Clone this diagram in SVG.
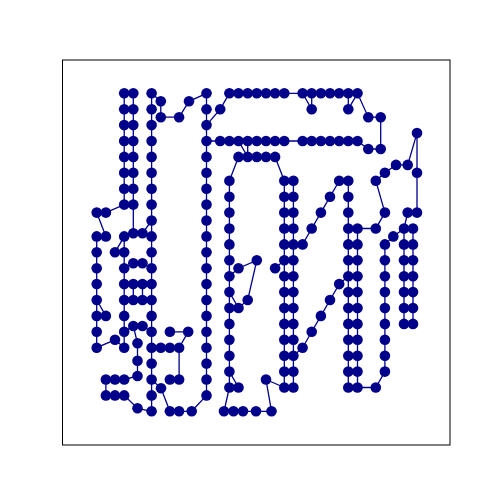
<svg xmlns="http://www.w3.org/2000/svg" xmlns:xlink="http://www.w3.org/1999/xlink" width="500" height="500" viewBox="0 0 500 500">
<style>
.e{fill:none;stroke:#00008b;stroke-width:1.3}
.n{fill:#00008b}
</style>
<defs><circle id="d" class="n" cx="0" cy="0" r="5.3"/></defs>
<rect x="0" y="0" width="500" height="500" fill="#fff"/>
<rect x="62.5" y="60" width="387.5" height="385" fill="none" stroke="#000" stroke-width="1"/>
<g id="edges" class="e">
<path d="M124.2,93.3V204.6M133.3,93.3V233.3M151.6,93.3V411.3M206.5,93.3V395.4"/>
<path d="M151.6,93.3L160.8,101.3L160.8,117.2L179.1,117.2L189,101.3L206.5,93.3"/>
<path d="M206.5,395.4L191.7,411.3L169.9,411.3L161,388.3L151.6,379.5"/>
<path d="M96.7,212.6L105.9,212.6L124.2,204.6M96.7,212.6L105.9,236.4M96.7,236.4V347.7M96.7,236.4L105.9,236.4M96.7,300L105.9,315.9M96.7,315.9L105.9,315.9"/>
<path d="M96.7,347.7L115,339.8L124.2,347.7M115,252.3L124.2,236.4M124.2,236.4V347.7"/>
<path d="M124.2,236.4L133.3,233.3L142.5,233.3L151.6,236.4M142.5,233.3L151.6,220.5"/>
<path d="M124.2,268.2L133.3,263.3L142.5,263.3L151.6,268.2"/>
<path d="M124.2,284.1H151.6M124.2,300H151.6M133.3,284.1V300M142.5,284.1V300"/>
<path d="M124.2,331.8L133.3,326L142.5,326L151.6,331.8M133.3,326L137.5,343.3L137.5,360.7L137.5,376L124.2,379.5"/>
<path d="M105.9,379.5H124.2M105.9,395.4H124.2M105.9,379.5V395.4M124.2,395.4L137.5,408.3L151.6,411.3"/>
<path d="M151.6,347.7H179.1M169.9,331.8L188.2,331.8L179.1,347.7V379.5L169.9,379.5"/>
<path d="M229.4,93.3H357.5M206.5,125.1L220.2,109.2L229.4,93.3M302.6,93.3L311.7,109.2L311.7,93.3"/>
<path d="M348.3,93.3V109.2L357.5,93.3L368.3,117.2L380.7,117.2V149L368.3,149L357.5,141"/>
<path d="M206.5,141H357.5M238.5,156.9H275.1M247.7,156.9L238.5,141M247.7,156.9V141M238.5,156.9L229.4,180.8M275.1,156.9L284.3,180.8"/>
<path d="M229.4,180.8V387.5M229.4,276.2L238.5,268.2L256.8,260.3L247.7,300L238.5,308L229.4,292.1M229.4,308L238.5,308"/>
<path d="M229.4,371.6L238.5,387.5M229.4,387.5L224,411.3H271.5L266,379.5L284.3,387.5"/>
<path d="M284.3,180.8V387.5M293.4,180.8V387.5M275.1,268.2L284.3,260.3"/>
<path d="M293.4,244.4L302.6,244.4L311.7,228.5L320.9,212.6L330,196.7L339.2,180.8L348.3,180.8"/>
<path d="M293.4,355.7L302.6,347.7L311.7,331.8L320.9,315.9L330,300L339.2,284.1L348.3,276.2"/>
<path d="M348.3,180.8V387.5M357.5,228.5V387.5M357.5,387.5L375.8,387.5L384.9,371.6M384.9,244.4V371.6"/>
<path d="M357.5,228.5L375.8,228.5L384.9,212.6L375.8,180.8L384.9,172.8L396,164.9L407.7,164.9L417,133.1V212.6L407.7,212.6L404,228.5"/>
<path d="M384.9,244.4L393.3,236.4L404,228.5M404,228.5V323.9M413,228.5V323.9"/>
</g>
<g id="n1"><use href="#d" x="124.2" y="93.3"/></g>
<g id="n2"><use href="#d" x="124.2" y="109.2"/></g>
<g id="n3"><use href="#d" x="124.2" y="125.1"/></g>
<g id="n4"><use href="#d" x="124.2" y="141"/></g>
<g id="n5"><use href="#d" x="124.2" y="156.9"/></g>
<g id="n6"><use href="#d" x="124.2" y="172.8"/></g>
<g id="n7"><use href="#d" x="124.2" y="188.7"/></g>
<g id="n8"><use href="#d" x="124.2" y="204.6"/></g>
<g id="n9"><use href="#d" x="133.3" y="93.3"/></g>
<g id="n10"><use href="#d" x="133.3" y="109.2"/></g>
<g id="n11"><use href="#d" x="133.3" y="125.1"/></g>
<g id="n12"><use href="#d" x="133.3" y="141"/></g>
<g id="n13"><use href="#d" x="133.3" y="156.9"/></g>
<g id="n14"><use href="#d" x="133.3" y="172.8"/></g>
<g id="n15"><use href="#d" x="133.3" y="188.7"/></g>
<g id="n16"><use href="#d" x="133.3" y="204.6"/></g>
<g id="n17"><use href="#d" x="151.6" y="93.3"/></g>
<g id="n18"><use href="#d" x="151.6" y="109.2"/></g>
<g id="n19"><use href="#d" x="151.6" y="125.1"/></g>
<g id="n20"><use href="#d" x="151.6" y="141"/></g>
<g id="n21"><use href="#d" x="151.6" y="156.9"/></g>
<g id="n22"><use href="#d" x="151.6" y="172.8"/></g>
<g id="n23"><use href="#d" x="151.6" y="188.7"/></g>
<g id="n24"><use href="#d" x="151.6" y="204.6"/></g>
<g id="n25"><use href="#d" x="151.6" y="220.5"/></g>
<g id="n26"><use href="#d" x="151.6" y="236.4"/></g>
<g id="n27"><use href="#d" x="151.6" y="252.3"/></g>
<g id="n28"><use href="#d" x="151.6" y="268.2"/></g>
<g id="n29"><use href="#d" x="151.6" y="284.1"/></g>
<g id="n30"><use href="#d" x="151.6" y="300"/></g>
<g id="n31"><use href="#d" x="151.6" y="315.9"/></g>
<g id="n32"><use href="#d" x="151.6" y="331.8"/></g>
<g id="n33"><use href="#d" x="151.6" y="347.7"/></g>
<g id="n34"><use href="#d" x="151.6" y="363.6"/></g>
<g id="n35"><use href="#d" x="151.6" y="379.5"/></g>
<g id="n36"><use href="#d" x="151.6" y="395.4"/></g>
<g id="n37"><use href="#d" x="151.6" y="411.3"/></g>
<g id="n38"><use href="#d" x="160.8" y="101.3"/></g>
<g id="n39"><use href="#d" x="160.8" y="117.2"/></g>
<g id="n40"><use href="#d" x="179.1" y="117.2"/></g>
<g id="n41"><use href="#d" x="189" y="101.3"/></g>
<g id="n42"><use href="#d" x="206.5" y="93.3"/></g>
<g id="n43"><use href="#d" x="206.5" y="109.2"/></g>
<g id="n44"><use href="#d" x="206.5" y="125.1"/></g>
<g id="n45"><use href="#d" x="206.5" y="141"/></g>
<g id="n46"><use href="#d" x="206.5" y="156.9"/></g>
<g id="n47"><use href="#d" x="206.5" y="172.8"/></g>
<g id="n48"><use href="#d" x="206.5" y="188.7"/></g>
<g id="n49"><use href="#d" x="206.5" y="204.6"/></g>
<g id="n50"><use href="#d" x="206.5" y="220.5"/></g>
<g id="n51"><use href="#d" x="206.5" y="236.4"/></g>
<g id="n52"><use href="#d" x="206.5" y="252.3"/></g>
<g id="n53"><use href="#d" x="206.5" y="268.2"/></g>
<g id="n54"><use href="#d" x="206.5" y="284.1"/></g>
<g id="n55"><use href="#d" x="206.5" y="300"/></g>
<g id="n56"><use href="#d" x="206.5" y="315.9"/></g>
<g id="n57"><use href="#d" x="206.5" y="331.8"/></g>
<g id="n58"><use href="#d" x="206.5" y="347.7"/></g>
<g id="n59"><use href="#d" x="206.5" y="363.6"/></g>
<g id="n60"><use href="#d" x="206.5" y="379.5"/></g>
<g id="n61"><use href="#d" x="206.5" y="395.4"/></g>
<g id="n62"><use href="#d" x="96.7" y="212.6"/></g>
<g id="n63"><use href="#d" x="105.9" y="212.6"/></g>
<g id="n64"><use href="#d" x="96.7" y="236.4"/></g>
<g id="n65"><use href="#d" x="96.7" y="252.3"/></g>
<g id="n66"><use href="#d" x="96.7" y="268.2"/></g>
<g id="n67"><use href="#d" x="96.7" y="284.1"/></g>
<g id="n68"><use href="#d" x="96.7" y="300"/></g>
<g id="n69"><use href="#d" x="96.7" y="315.9"/></g>
<g id="n70"><use href="#d" x="96.7" y="331.8"/></g>
<g id="n71"><use href="#d" x="96.7" y="347.7"/></g>
<g id="n72"><use href="#d" x="105.9" y="236.4"/></g>
<g id="n73"><use href="#d" x="105.9" y="315.9"/></g>
<g id="n74"><use href="#d" x="115" y="339.8"/></g>
<g id="n75"><use href="#d" x="115" y="252.3"/></g>
<g id="n76"><use href="#d" x="124.2" y="236.4"/></g>
<g id="n77"><use href="#d" x="124.2" y="252.3"/></g>
<g id="n78"><use href="#d" x="124.2" y="268.2"/></g>
<g id="n79"><use href="#d" x="124.2" y="284.1"/></g>
<g id="n80"><use href="#d" x="124.2" y="300"/></g>
<g id="n81"><use href="#d" x="124.2" y="315.9"/></g>
<g id="n82"><use href="#d" x="124.2" y="331.8"/></g>
<g id="n83"><use href="#d" x="124.2" y="347.7"/></g>
<g id="n84"><use href="#d" x="133.3" y="233.3"/></g>
<g id="n85"><use href="#d" x="142.5" y="233.3"/></g>
<g id="n86"><use href="#d" x="133.3" y="263.3"/></g>
<g id="n87"><use href="#d" x="142.5" y="263.3"/></g>
<g id="n88"><use href="#d" x="133.3" y="284.1"/></g>
<g id="n89"><use href="#d" x="142.5" y="284.1"/></g>
<g id="n90"><use href="#d" x="133.3" y="300"/></g>
<g id="n91"><use href="#d" x="142.5" y="300"/></g>
<g id="n92"><use href="#d" x="133.3" y="326"/></g>
<g id="n93"><use href="#d" x="142.5" y="326"/></g>
<g id="n94"><use href="#d" x="137.5" y="343.3"/></g>
<g id="n95"><use href="#d" x="137.5" y="360.7"/></g>
<g id="n96"><use href="#d" x="137.5" y="376"/></g>
<g id="n97"><use href="#d" x="137.5" y="408.3"/></g>
<g id="n98"><use href="#d" x="105.9" y="379.5"/></g>
<g id="n99"><use href="#d" x="115" y="379.5"/></g>
<g id="n100"><use href="#d" x="124.2" y="379.5"/></g>
<g id="n101"><use href="#d" x="105.9" y="395.4"/></g>
<g id="n102"><use href="#d" x="115" y="395.4"/></g>
<g id="n103"><use href="#d" x="124.2" y="395.4"/></g>
<g id="n104"><use href="#d" x="160.8" y="347.7"/></g>
<g id="n105"><use href="#d" x="169.9" y="347.7"/></g>
<g id="n106"><use href="#d" x="179.1" y="347.7"/></g>
<g id="n107"><use href="#d" x="169.9" y="331.8"/></g>
<g id="n108"><use href="#d" x="188.2" y="331.8"/></g>
<g id="n109"><use href="#d" x="169.9" y="379.5"/></g>
<g id="n110"><use href="#d" x="179.1" y="379.5"/></g>
<g id="n111"><use href="#d" x="161" y="388.3"/></g>
<g id="n112"><use href="#d" x="169.9" y="411.3"/></g>
<g id="n113"><use href="#d" x="179.1" y="411.3"/></g>
<g id="n114"><use href="#d" x="191.7" y="411.3"/></g>
<g id="n115"><use href="#d" x="229.4" y="93.3"/></g>
<g id="n116"><use href="#d" x="238.5" y="93.3"/></g>
<g id="n117"><use href="#d" x="247.7" y="93.3"/></g>
<g id="n118"><use href="#d" x="256.8" y="93.3"/></g>
<g id="n119"><use href="#d" x="266" y="93.3"/></g>
<g id="n120"><use href="#d" x="275.1" y="93.3"/></g>
<g id="n121"><use href="#d" x="284.3" y="93.3"/></g>
<g id="n122"><use href="#d" x="302.6" y="93.3"/></g>
<g id="n123"><use href="#d" x="311.7" y="93.3"/></g>
<g id="n124"><use href="#d" x="320.9" y="93.3"/></g>
<g id="n125"><use href="#d" x="330" y="93.3"/></g>
<g id="n126"><use href="#d" x="339.2" y="93.3"/></g>
<g id="n127"><use href="#d" x="348.3" y="93.3"/></g>
<g id="n128"><use href="#d" x="357.5" y="93.3"/></g>
<g id="n129"><use href="#d" x="220.2" y="109.2"/></g>
<g id="n130"><use href="#d" x="311.7" y="109.2"/></g>
<g id="n131"><use href="#d" x="348.3" y="109.2"/></g>
<g id="n132"><use href="#d" x="368.3" y="117.2"/></g>
<g id="n133"><use href="#d" x="380.7" y="117.2"/></g>
<g id="n134"><use href="#d" x="368.3" y="149"/></g>
<g id="n135"><use href="#d" x="380.7" y="149"/></g>
<g id="n136"><use href="#d" x="220.2" y="141"/></g>
<g id="n137"><use href="#d" x="229.4" y="141"/></g>
<g id="n138"><use href="#d" x="238.5" y="141"/></g>
<g id="n139"><use href="#d" x="247.7" y="141"/></g>
<g id="n140"><use href="#d" x="256.8" y="141"/></g>
<g id="n141"><use href="#d" x="266" y="141"/></g>
<g id="n142"><use href="#d" x="275.1" y="141"/></g>
<g id="n143"><use href="#d" x="284.3" y="141"/></g>
<g id="n144"><use href="#d" x="302.6" y="141"/></g>
<g id="n145"><use href="#d" x="311.7" y="141"/></g>
<g id="n146"><use href="#d" x="320.9" y="141"/></g>
<g id="n147"><use href="#d" x="330" y="141"/></g>
<g id="n148"><use href="#d" x="339.2" y="141"/></g>
<g id="n149"><use href="#d" x="348.3" y="141"/></g>
<g id="n150"><use href="#d" x="357.5" y="141"/></g>
<g id="n151"><use href="#d" x="238.5" y="156.9"/></g>
<g id="n152"><use href="#d" x="247.7" y="156.9"/></g>
<g id="n153"><use href="#d" x="256.8" y="156.9"/></g>
<g id="n154"><use href="#d" x="266" y="156.9"/></g>
<g id="n155"><use href="#d" x="275.1" y="156.9"/></g>
<g id="n156"><use href="#d" x="229.4" y="180.8"/></g>
<g id="n157"><use href="#d" x="229.4" y="196.7"/></g>
<g id="n158"><use href="#d" x="229.4" y="212.6"/></g>
<g id="n159"><use href="#d" x="229.4" y="228.5"/></g>
<g id="n160"><use href="#d" x="229.4" y="244.4"/></g>
<g id="n161"><use href="#d" x="229.4" y="260.3"/></g>
<g id="n162"><use href="#d" x="229.4" y="276.2"/></g>
<g id="n163"><use href="#d" x="229.4" y="292.1"/></g>
<g id="n164"><use href="#d" x="229.4" y="308"/></g>
<g id="n165"><use href="#d" x="229.4" y="323.9"/></g>
<g id="n166"><use href="#d" x="229.4" y="339.8"/></g>
<g id="n167"><use href="#d" x="229.4" y="355.7"/></g>
<g id="n168"><use href="#d" x="229.4" y="371.6"/></g>
<g id="n169"><use href="#d" x="229.4" y="387.5"/></g>
<g id="n170"><use href="#d" x="238.5" y="268.2"/></g>
<g id="n171"><use href="#d" x="256.8" y="260.3"/></g>
<g id="n172"><use href="#d" x="247.7" y="300"/></g>
<g id="n173"><use href="#d" x="238.5" y="308"/></g>
<g id="n174"><use href="#d" x="238.5" y="387.5"/></g>
<g id="n175"><use href="#d" x="224" y="411.3"/></g>
<g id="n176"><use href="#d" x="233.5" y="411.3"/></g>
<g id="n177"><use href="#d" x="243" y="411.3"/></g>
<g id="n178"><use href="#d" x="256" y="411.3"/></g>
<g id="n179"><use href="#d" x="271.5" y="411.3"/></g>
<g id="n180"><use href="#d" x="266" y="379.5"/></g>
<g id="n181"><use href="#d" x="284.3" y="180.8"/></g>
<g id="n182"><use href="#d" x="284.3" y="196.7"/></g>
<g id="n183"><use href="#d" x="284.3" y="212.6"/></g>
<g id="n184"><use href="#d" x="284.3" y="228.5"/></g>
<g id="n185"><use href="#d" x="284.3" y="244.4"/></g>
<g id="n186"><use href="#d" x="284.3" y="260.3"/></g>
<g id="n187"><use href="#d" x="284.3" y="276.2"/></g>
<g id="n188"><use href="#d" x="284.3" y="292.1"/></g>
<g id="n189"><use href="#d" x="284.3" y="308"/></g>
<g id="n190"><use href="#d" x="284.3" y="323.9"/></g>
<g id="n191"><use href="#d" x="284.3" y="339.8"/></g>
<g id="n192"><use href="#d" x="284.3" y="355.7"/></g>
<g id="n193"><use href="#d" x="284.3" y="371.6"/></g>
<g id="n194"><use href="#d" x="284.3" y="387.5"/></g>
<g id="n195"><use href="#d" x="293.4" y="180.8"/></g>
<g id="n196"><use href="#d" x="293.4" y="196.7"/></g>
<g id="n197"><use href="#d" x="293.4" y="212.6"/></g>
<g id="n198"><use href="#d" x="293.4" y="228.5"/></g>
<g id="n199"><use href="#d" x="293.4" y="244.4"/></g>
<g id="n200"><use href="#d" x="293.4" y="260.3"/></g>
<g id="n201"><use href="#d" x="293.4" y="276.2"/></g>
<g id="n202"><use href="#d" x="293.4" y="292.1"/></g>
<g id="n203"><use href="#d" x="293.4" y="308"/></g>
<g id="n204"><use href="#d" x="293.4" y="323.9"/></g>
<g id="n205"><use href="#d" x="293.4" y="339.8"/></g>
<g id="n206"><use href="#d" x="293.4" y="355.7"/></g>
<g id="n207"><use href="#d" x="293.4" y="371.6"/></g>
<g id="n208"><use href="#d" x="293.4" y="387.5"/></g>
<g id="n209"><use href="#d" x="275.1" y="268.2"/></g>
<g id="n210"><use href="#d" x="302.6" y="244.4"/></g>
<g id="n211"><use href="#d" x="311.7" y="228.5"/></g>
<g id="n212"><use href="#d" x="320.9" y="212.6"/></g>
<g id="n213"><use href="#d" x="330" y="196.7"/></g>
<g id="n214"><use href="#d" x="339.2" y="180.8"/></g>
<g id="n215"><use href="#d" x="302.6" y="347.7"/></g>
<g id="n216"><use href="#d" x="311.7" y="331.8"/></g>
<g id="n217"><use href="#d" x="320.9" y="315.9"/></g>
<g id="n218"><use href="#d" x="330" y="300"/></g>
<g id="n219"><use href="#d" x="339.2" y="284.1"/></g>
<g id="n220"><use href="#d" x="348.3" y="180.8"/></g>
<g id="n221"><use href="#d" x="348.3" y="196.7"/></g>
<g id="n222"><use href="#d" x="348.3" y="212.6"/></g>
<g id="n223"><use href="#d" x="348.3" y="228.5"/></g>
<g id="n224"><use href="#d" x="348.3" y="244.4"/></g>
<g id="n225"><use href="#d" x="348.3" y="260.3"/></g>
<g id="n226"><use href="#d" x="348.3" y="276.2"/></g>
<g id="n227"><use href="#d" x="348.3" y="292.1"/></g>
<g id="n228"><use href="#d" x="348.3" y="308"/></g>
<g id="n229"><use href="#d" x="348.3" y="323.9"/></g>
<g id="n230"><use href="#d" x="348.3" y="339.8"/></g>
<g id="n231"><use href="#d" x="348.3" y="355.7"/></g>
<g id="n232"><use href="#d" x="348.3" y="371.6"/></g>
<g id="n233"><use href="#d" x="348.3" y="387.5"/></g>
<g id="n234"><use href="#d" x="357.5" y="228.5"/></g>
<g id="n235"><use href="#d" x="357.5" y="244.4"/></g>
<g id="n236"><use href="#d" x="357.5" y="260.3"/></g>
<g id="n237"><use href="#d" x="357.5" y="276.2"/></g>
<g id="n238"><use href="#d" x="357.5" y="292.1"/></g>
<g id="n239"><use href="#d" x="357.5" y="308"/></g>
<g id="n240"><use href="#d" x="357.5" y="323.9"/></g>
<g id="n241"><use href="#d" x="357.5" y="339.8"/></g>
<g id="n242"><use href="#d" x="357.5" y="355.7"/></g>
<g id="n243"><use href="#d" x="357.5" y="371.6"/></g>
<g id="n244"><use href="#d" x="357.5" y="387.5"/></g>
<g id="n245"><use href="#d" x="375.8" y="387.5"/></g>
<g id="n246"><use href="#d" x="375.8" y="228.5"/></g>
<g id="n247"><use href="#d" x="384.9" y="212.6"/></g>
<g id="n248"><use href="#d" x="375.8" y="180.8"/></g>
<g id="n249"><use href="#d" x="384.9" y="172.8"/></g>
<g id="n250"><use href="#d" x="396" y="164.9"/></g>
<g id="n251"><use href="#d" x="407.7" y="164.9"/></g>
<g id="n252"><use href="#d" x="417" y="133.1"/></g>
<g id="n253"><use href="#d" x="417" y="172.8"/></g>
<g id="n254"><use href="#d" x="417" y="212.6"/></g>
<g id="n255"><use href="#d" x="407.7" y="212.6"/></g>
<g id="n256"><use href="#d" x="393.3" y="236.4"/></g>
<g id="n257"><use href="#d" x="384.9" y="244.4"/></g>
<g id="n258"><use href="#d" x="384.9" y="260.3"/></g>
<g id="n259"><use href="#d" x="384.9" y="276.2"/></g>
<g id="n260"><use href="#d" x="384.9" y="292.1"/></g>
<g id="n261"><use href="#d" x="384.9" y="308"/></g>
<g id="n262"><use href="#d" x="384.9" y="323.9"/></g>
<g id="n263"><use href="#d" x="384.9" y="339.8"/></g>
<g id="n264"><use href="#d" x="384.9" y="355.7"/></g>
<g id="n265"><use href="#d" x="384.9" y="371.6"/></g>
<g id="n266"><use href="#d" x="404" y="228.5"/></g>
<g id="n267"><use href="#d" x="404" y="244.4"/></g>
<g id="n268"><use href="#d" x="404" y="260.3"/></g>
<g id="n269"><use href="#d" x="404" y="276.2"/></g>
<g id="n270"><use href="#d" x="404" y="292.1"/></g>
<g id="n271"><use href="#d" x="404" y="308"/></g>
<g id="n272"><use href="#d" x="404" y="323.9"/></g>
<g id="n273"><use href="#d" x="413" y="228.5"/></g>
<g id="n274"><use href="#d" x="413" y="244.4"/></g>
<g id="n275"><use href="#d" x="413" y="260.3"/></g>
<g id="n276"><use href="#d" x="413" y="276.2"/></g>
<g id="n277"><use href="#d" x="413" y="292.1"/></g>
<g id="n278"><use href="#d" x="413" y="308"/></g>
<g id="n279"><use href="#d" x="413" y="323.9"/></g>
</svg>
